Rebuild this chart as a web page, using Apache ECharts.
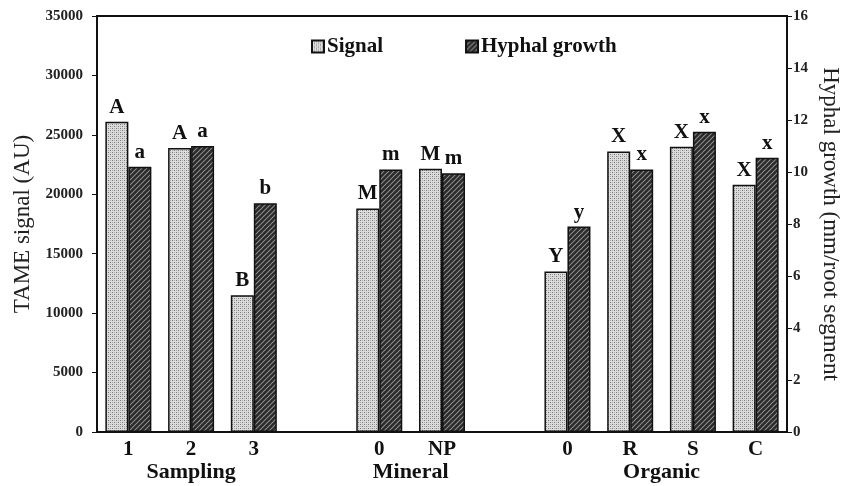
<!DOCTYPE html>
<html><head><meta charset="utf-8">
<script src="https://cdn.jsdelivr.net/npm/echarts@6/dist/echarts.min.js"></script>
<style>html,body{margin:0;padding:0;background:#fff}#c{width:850px;height:486px}</style>
</head><body><div id="c"></div>
<script>
const categories = ['1','2','3','','0','NP','','0','R','S','C'];
const signalValues = [26100, 23900, 11500, null, 18800, 22150, null, 13500, 23600, 24000, 20800];
const hyphalValues = [10.2, 11.0, 8.8, null, 10.1, 9.95, null, 7.9, 10.1, 11.55, 10.55];
const signalLetters = ['A','A','B','','M','M','','Y','X','X','X'];
const hyphalLetters = ['a','a','b','','m','m','','y','x','x','x'];
const groupNames = ['Sampling','Mineral','Organic'];
const groupMembers = [[0,1,2],[4,5],[7,8,9,10]];
const leftTicks = {min:0, max:35000, interval:5000};
const rightTicks = {min:0, max:16, interval:2};

function makePattern(kind){
  const c = document.createElement('canvas');
  if(kind==='dots'){
    c.width=4;c.height=4;const g=c.getContext('2d');
    g.fillStyle='#dcdcdc';g.fillRect(0,0,4,4);
    g.fillStyle='#7a7a7a';g.fillRect(0,0,1,1);g.fillRect(2,2,1,1);
    g.fillStyle='#aaaaaa';g.fillRect(2,0,1,1);g.fillRect(0,2,1,1);
  } else {
    c.width=5;c.height=5;const g=c.getContext('2d');
    g.fillStyle='#2a2a2a';g.fillRect(0,0,5,5);
    g.strokeStyle='#8c8c8c';g.lineWidth=1.1;
    g.beginPath();
    g.moveTo(-1,6);g.lineTo(6,-1);
    g.moveTo(-1,1);g.lineTo(1,-1);
    g.moveTo(4,6);g.lineTo(6,4);
    g.stroke();
  }
  return {image:c, repeat:'repeat'};
}
const serif = '"Liberation Serif", "DejaVu Serif", serif';
const chart = echarts.init(document.getElementById('c'));
const letterLabel = (letters)=>({
  show:true, position:'top', distance:4,
  formatter:p=>letters[p.dataIndex], fontFamily:serif, fontWeight:'bold', fontSize:21, color:'#111'
});
chart.setOption({
  animation:false,
  grid:{left:97,right:60,top:16,bottom:54,show:true,borderColor:'#111',borderWidth:2,backgroundColor:'transparent'},
  legend:{left:306,top:31,itemGap:82,itemWidth:12,itemHeight:12,icon:'rect',
    textStyle:{fontFamily:serif,fontWeight:'bold',fontSize:21,color:'#111',padding:[0,0,0,-2]},
    data:['Signal','Hyphal growth']},
  xAxis:{type:'category',data:categories,
    axisLine:{lineStyle:{color:'#111',width:2}},axisTick:{show:false},
    axisLabel:{margin:7,fontFamily:serif,fontWeight:'bold',fontSize:21,color:'#111',interval:0}},
  yAxis:[
    {type:'value',min:leftTicks.min,max:leftTicks.max,interval:leftTicks.interval,position:'left',
     name:'TAME signal (AU)',nameLocation:'middle',nameGap:62,
     nameTextStyle:{fontFamily:serif,fontSize:23,color:'#222'},
     axisLine:{show:true,lineStyle:{color:'#111',width:2}},axisTick:{show:true,length:5,lineStyle:{color:'#111'}},
     splitLine:{show:false},
     axisLabel:{margin:14,fontFamily:serif,fontWeight:'bold',fontSize:15,color:'#222',formatter:v=>String(v)}},
    {type:'value',min:rightTicks.min,max:rightTicks.max,interval:rightTicks.interval,position:'right',
     name:'Hyphal growth (mm/root segment',nameLocation:'middle',nameGap:32,nameRotate:-90,
     nameTextStyle:{fontFamily:serif,fontSize:23,color:'#222'},
     axisLine:{show:true,lineStyle:{color:'#111',width:2}},axisTick:{show:true,length:5,lineStyle:{color:'#111'}},
     splitLine:{show:false},
     axisLabel:{margin:6,fontFamily:serif,fontWeight:'bold',fontSize:15,color:'#222',formatter:v=>String(v)}}
  ],
  series:[
    {name:'Signal',type:'bar',yAxisIndex:0,data:signalValues,barWidth:23,barGap:'0%',
     itemStyle:{color:makePattern('dots'),borderColor:'#111',borderWidth:1.5},
     label:letterLabel(signalLetters)},
    {name:'Hyphal growth',type:'bar',yAxisIndex:1,data:hyphalValues,barWidth:23,
     itemStyle:{color:makePattern('hatch'),borderColor:'#111',borderWidth:1.5},
     label:letterLabel(hyphalLetters)}
  ]
});
const graphics = groupNames.map((name,i)=>{
  const xs = groupMembers[i].map(k=>chart.convertToPixel({xAxisIndex:0},k));
  const cx = (Math.min(...xs)+Math.max(...xs))/2;
  return {type:'text',x:cx,y:472,style:{text:name,fontFamily:serif,fontWeight:'bold',fontSize:22,fill:'#111',align:'center',verticalAlign:'middle'}};
});
chart.setOption({graphic:graphics});
</script></body></html>
